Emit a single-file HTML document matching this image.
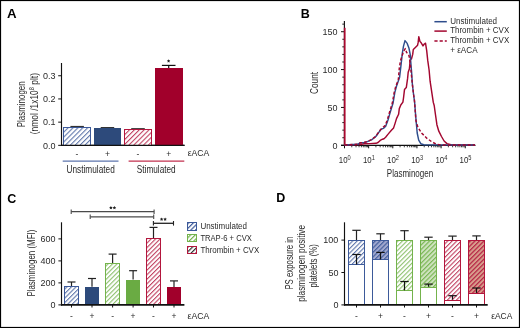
<!DOCTYPE html>
<html><head><meta charset="utf-8"><style>
html,body{margin:0;padding:0;background:#fff;}
svg{display:block;will-change:transform;}
text{font-family:"Liberation Sans", sans-serif;}
</style></head><body>
<svg width="520" height="328" viewBox="0 0 520 328">
<defs><pattern id="hatchBlueA" patternUnits="userSpaceOnUse" width="3.45" height="3.45" patternTransform="rotate(45)"><rect width="3.45" height="3.45" fill="#fff"/><line x1="0.6" y1="0" x2="0.6" y2="3.45" stroke="#3d5a9a" stroke-width="0.9"/></pattern><pattern id="hatchRedA" patternUnits="userSpaceOnUse" width="3.45" height="3.45" patternTransform="rotate(45)"><rect width="3.45" height="3.45" fill="#fff"/><line x1="0.6" y1="0" x2="0.6" y2="3.45" stroke="#b3163d" stroke-width="0.9"/></pattern><pattern id="hatchBlue" patternUnits="userSpaceOnUse" width="3.2" height="3.2" patternTransform="rotate(45)"><rect width="3.2" height="3.2" fill="#fff"/><line x1="0.6" y1="0" x2="0.6" y2="3.2" stroke="#3d5a9a" stroke-width="0.9"/></pattern><pattern id="hatchGreen" patternUnits="userSpaceOnUse" width="3.2" height="3.2" patternTransform="rotate(45)"><rect width="3.2" height="3.2" fill="#fff"/><line x1="0.6" y1="0" x2="0.6" y2="3.2" stroke="#74b34c" stroke-width="0.9"/></pattern><pattern id="hatchRed" patternUnits="userSpaceOnUse" width="3.2" height="3.2" patternTransform="rotate(45)"><rect width="3.2" height="3.2" fill="#fff"/><line x1="0.6" y1="0" x2="0.6" y2="3.2" stroke="#b3163d" stroke-width="0.9"/></pattern><pattern id="lgBlue" patternUnits="userSpaceOnUse" width="3.3" height="3.3" patternTransform="rotate(45)"><rect width="3.3" height="3.3" fill="#fff"/><line x1="0.6" y1="0" x2="0.6" y2="3.3" stroke="#3d5a9a" stroke-width="1.2"/></pattern><pattern id="lgGreen" patternUnits="userSpaceOnUse" width="3.3" height="3.3" patternTransform="rotate(45)"><rect width="3.3" height="3.3" fill="#fff"/><line x1="0.6" y1="0" x2="0.6" y2="3.3" stroke="#74b34c" stroke-width="1.2"/></pattern><pattern id="lgGray" patternUnits="userSpaceOnUse" width="3.3" height="3.3" patternTransform="rotate(45)"><rect width="3.3" height="3.3" fill="#fff"/><line x1="0.6" y1="0" x2="0.6" y2="3.3" stroke="#333" stroke-width="1.2"/></pattern><pattern id="hatchBlueF" patternUnits="userSpaceOnUse" width="3.2" height="3.2" patternTransform="rotate(45)"><rect width="3.2" height="3.2" fill="#a2a9cf"/><line x1="0.6" y1="0" x2="0.6" y2="3.2" stroke="#3d5a9a" stroke-width="1.1"/></pattern><pattern id="hatchGreenF" patternUnits="userSpaceOnUse" width="3.2" height="3.2" patternTransform="rotate(45)"><rect width="3.2" height="3.2" fill="#cfe3c0"/><line x1="0.6" y1="0" x2="0.6" y2="3.2" stroke="#74b34c" stroke-width="1.1"/></pattern><pattern id="hatchRedF" patternUnits="userSpaceOnUse" width="3.2" height="3.2" patternTransform="rotate(45)"><rect width="3.2" height="3.2" fill="#d89e8c"/><line x1="0.6" y1="0" x2="0.6" y2="3.2" stroke="#b3163d" stroke-width="1.1"/></pattern></defs>
<rect x="0" y="0" width="520" height="328" fill="#fff"/>
<text x="7.1" y="17.7" font-size="12.8" fill="#000" text-anchor="start" font-weight="bold" textLength="9.6" lengthAdjust="spacingAndGlyphs" >A</text>
<line x1="61.5" y1="63" x2="61.5" y2="145.85" stroke="#111" stroke-width="1.15" />
<line x1="61" y1="145.35" x2="184.5" y2="145.35" stroke="#111" stroke-width="1.2" />
<line x1="58.2" y1="145.35" x2="61.5" y2="145.35" stroke="#111" stroke-width="1" />
<text x="55.6" y="148.55" font-size="9" fill="#2a2a2a" text-anchor="end" >0.0</text>
<line x1="58.2" y1="122.15" x2="61.5" y2="122.15" stroke="#111" stroke-width="1" />
<text x="55.6" y="125.35" font-size="9" fill="#2a2a2a" text-anchor="end" >0.1</text>
<line x1="58.2" y1="98.95" x2="61.5" y2="98.95" stroke="#111" stroke-width="1" />
<text x="55.6" y="102.15" font-size="9" fill="#2a2a2a" text-anchor="end" >0.2</text>
<line x1="58.2" y1="75.75" x2="61.5" y2="75.75" stroke="#111" stroke-width="1" />
<text x="55.6" y="78.95" font-size="9" fill="#2a2a2a" text-anchor="end" >0.3</text>
<line x1="70.4" y1="126.5" x2="83.9" y2="126.5" stroke="#333" stroke-width="1.2" />
<line x1="100.7" y1="127.6" x2="114.2" y2="127.6" stroke="#333" stroke-width="1.2" />
<line x1="131.2" y1="128.7" x2="144.8" y2="128.7" stroke="#333" stroke-width="1.2" />
<line x1="161.9" y1="65.4" x2="175.5" y2="65.4" stroke="#111" stroke-width="1.2" />
<line x1="168.7" y1="65.4" x2="168.7" y2="68" stroke="#111" stroke-width="1.2" />
<rect x="63.5" y="127.5" width="27" height="18" fill="url(#hatchBlueA)" stroke="#3d5a9a" stroke-width="1" />
<rect x="94" y="128" width="27" height="17" fill="#2d4a7b" stroke="none" stroke-width="1" />
<rect x="124.5" y="129.5" width="27" height="16" fill="url(#hatchRedA)" stroke="#b3163d" stroke-width="1" />
<rect x="155" y="68" width="28" height="77" fill="#a1002b" stroke="none" stroke-width="1" />
<line x1="61" y1="145.35" x2="184.5" y2="145.35" stroke="#111" stroke-width="1.2" />
<polygon points="168.6,59.2 169.13,60.27 170.31,60.44 169.46,61.28 169.66,62.46 168.6,61.9 167.54,62.46 167.74,61.28 166.89,60.44 168.07,60.27" fill="#222"/>
<text x="77" y="156.6" font-size="8.5" fill="#2a2a2a" text-anchor="middle" >-</text>
<text x="107.5" y="156.6" font-size="8.5" fill="#2a2a2a" text-anchor="middle" >+</text>
<text x="138" y="156.6" font-size="8.5" fill="#2a2a2a" text-anchor="middle" >-</text>
<text x="168.8" y="156.6" font-size="8.5" fill="#2a2a2a" text-anchor="middle" >+</text>
<text x="187.7" y="156.3" font-size="9" fill="#2a2a2a" text-anchor="start" textLength="21.7" lengthAdjust="spacingAndGlyphs" >&#949;ACA</text>
<line x1="62.7" y1="161.1" x2="118.5" y2="161.1" stroke="#5d74ad" stroke-width="1.3" />
<line x1="128.6" y1="161.1" x2="184.3" y2="161.1" stroke="#c2304f" stroke-width="1.3" />
<text x="66.5" y="173.2" font-size="11" fill="#2a2a2a" text-anchor="start" textLength="48.3" lengthAdjust="spacingAndGlyphs" >Unstimulated</text>
<text x="136.8" y="173" font-size="11" fill="#2a2a2a" text-anchor="start" textLength="38.9" lengthAdjust="spacingAndGlyphs" >Stimulated</text>
<text transform="translate(25.2,127.2) rotate(-90)" font-size="10.4" fill="#2a2a2a" text-anchor="start" textLength="45.8" lengthAdjust="spacingAndGlyphs" >Plasminogen</text>
<text transform="translate(37.8,134.3) rotate(-90)" font-size="10.4" fill="#2a2a2a" text-anchor="start" textLength="61.3" lengthAdjust="spacingAndGlyphs" >(nmol /1x10<tspan font-size="7" dy="-3.6">8</tspan><tspan dy="3.6"> plt)</tspan></text>
<text x="300.8" y="17.9" font-size="12.5" fill="#000" text-anchor="start" font-weight="bold" >B</text>
<line x1="344.4" y1="21" x2="344.4" y2="145.9" stroke="#111" stroke-width="1.15" />
<line x1="341" y1="145.3" x2="475.5" y2="145.3" stroke="#111" stroke-width="1.2" />
<line x1="341" y1="145.3" x2="344.4" y2="145.3" stroke="#111" stroke-width="1" />
<line x1="342.3" y1="137.73" x2="344.4" y2="137.73" stroke="#222" stroke-width="1" />
<line x1="342.3" y1="130.15" x2="344.4" y2="130.15" stroke="#222" stroke-width="1" />
<line x1="342.3" y1="122.58" x2="344.4" y2="122.58" stroke="#222" stroke-width="1" />
<line x1="342.3" y1="115.01" x2="344.4" y2="115.01" stroke="#222" stroke-width="1" />
<line x1="341" y1="107.44" x2="344.4" y2="107.44" stroke="#111" stroke-width="1" />
<line x1="342.3" y1="99.86" x2="344.4" y2="99.86" stroke="#222" stroke-width="1" />
<line x1="342.3" y1="92.29" x2="344.4" y2="92.29" stroke="#222" stroke-width="1" />
<line x1="342.3" y1="84.72" x2="344.4" y2="84.72" stroke="#222" stroke-width="1" />
<line x1="342.3" y1="77.14" x2="344.4" y2="77.14" stroke="#222" stroke-width="1" />
<line x1="341" y1="69.57" x2="344.4" y2="69.57" stroke="#111" stroke-width="1" />
<line x1="342.3" y1="62" x2="344.4" y2="62" stroke="#222" stroke-width="1" />
<line x1="342.3" y1="54.42" x2="344.4" y2="54.42" stroke="#222" stroke-width="1" />
<line x1="342.3" y1="46.85" x2="344.4" y2="46.85" stroke="#222" stroke-width="1" />
<line x1="342.3" y1="39.28" x2="344.4" y2="39.28" stroke="#222" stroke-width="1" />
<line x1="341" y1="31.71" x2="344.4" y2="31.71" stroke="#111" stroke-width="1" />
<line x1="342.3" y1="24.13" x2="344.4" y2="24.13" stroke="#222" stroke-width="1" />
<text x="337.6" y="148.5" font-size="9" fill="#2a2a2a" text-anchor="end" >0</text>
<text x="337.6" y="110.64" font-size="9" fill="#2a2a2a" text-anchor="end" >50</text>
<text x="337.6" y="72.77" font-size="9" fill="#2a2a2a" text-anchor="end" >100</text>
<text x="337.6" y="34.91" font-size="9" fill="#2a2a2a" text-anchor="end" >150</text>
<line x1="344.5" y1="145.3" x2="344.5" y2="148.3" stroke="#111" stroke-width="1" />
<line x1="351.77" y1="145.3" x2="351.77" y2="147.3" stroke="#111" stroke-width="0.8" />
<line x1="356.02" y1="145.3" x2="356.02" y2="147.3" stroke="#111" stroke-width="0.8" />
<line x1="359.04" y1="145.3" x2="359.04" y2="147.3" stroke="#111" stroke-width="0.8" />
<line x1="361.38" y1="145.3" x2="361.38" y2="147.3" stroke="#111" stroke-width="0.8" />
<line x1="363.29" y1="145.3" x2="363.29" y2="147.3" stroke="#111" stroke-width="0.8" />
<line x1="364.91" y1="145.3" x2="364.91" y2="147.3" stroke="#111" stroke-width="0.8" />
<line x1="366.31" y1="145.3" x2="366.31" y2="147.3" stroke="#111" stroke-width="0.8" />
<line x1="367.54" y1="145.3" x2="367.54" y2="147.3" stroke="#111" stroke-width="0.8" />
<line x1="368.65" y1="145.3" x2="368.65" y2="148.3" stroke="#111" stroke-width="1" />
<line x1="375.92" y1="145.3" x2="375.92" y2="147.3" stroke="#111" stroke-width="0.8" />
<line x1="380.17" y1="145.3" x2="380.17" y2="147.3" stroke="#111" stroke-width="0.8" />
<line x1="383.19" y1="145.3" x2="383.19" y2="147.3" stroke="#111" stroke-width="0.8" />
<line x1="385.53" y1="145.3" x2="385.53" y2="147.3" stroke="#111" stroke-width="0.8" />
<line x1="387.44" y1="145.3" x2="387.44" y2="147.3" stroke="#111" stroke-width="0.8" />
<line x1="389.06" y1="145.3" x2="389.06" y2="147.3" stroke="#111" stroke-width="0.8" />
<line x1="390.46" y1="145.3" x2="390.46" y2="147.3" stroke="#111" stroke-width="0.8" />
<line x1="391.69" y1="145.3" x2="391.69" y2="147.3" stroke="#111" stroke-width="0.8" />
<line x1="392.8" y1="145.3" x2="392.8" y2="148.3" stroke="#111" stroke-width="1" />
<line x1="400.07" y1="145.3" x2="400.07" y2="147.3" stroke="#111" stroke-width="0.8" />
<line x1="404.32" y1="145.3" x2="404.32" y2="147.3" stroke="#111" stroke-width="0.8" />
<line x1="407.34" y1="145.3" x2="407.34" y2="147.3" stroke="#111" stroke-width="0.8" />
<line x1="409.68" y1="145.3" x2="409.68" y2="147.3" stroke="#111" stroke-width="0.8" />
<line x1="411.59" y1="145.3" x2="411.59" y2="147.3" stroke="#111" stroke-width="0.8" />
<line x1="413.21" y1="145.3" x2="413.21" y2="147.3" stroke="#111" stroke-width="0.8" />
<line x1="414.61" y1="145.3" x2="414.61" y2="147.3" stroke="#111" stroke-width="0.8" />
<line x1="415.84" y1="145.3" x2="415.84" y2="147.3" stroke="#111" stroke-width="0.8" />
<line x1="416.95" y1="145.3" x2="416.95" y2="148.3" stroke="#111" stroke-width="1" />
<line x1="424.22" y1="145.3" x2="424.22" y2="147.3" stroke="#111" stroke-width="0.8" />
<line x1="428.47" y1="145.3" x2="428.47" y2="147.3" stroke="#111" stroke-width="0.8" />
<line x1="431.49" y1="145.3" x2="431.49" y2="147.3" stroke="#111" stroke-width="0.8" />
<line x1="433.83" y1="145.3" x2="433.83" y2="147.3" stroke="#111" stroke-width="0.8" />
<line x1="435.74" y1="145.3" x2="435.74" y2="147.3" stroke="#111" stroke-width="0.8" />
<line x1="437.36" y1="145.3" x2="437.36" y2="147.3" stroke="#111" stroke-width="0.8" />
<line x1="438.76" y1="145.3" x2="438.76" y2="147.3" stroke="#111" stroke-width="0.8" />
<line x1="439.99" y1="145.3" x2="439.99" y2="147.3" stroke="#111" stroke-width="0.8" />
<line x1="441.1" y1="145.3" x2="441.1" y2="148.3" stroke="#111" stroke-width="1" />
<line x1="448.37" y1="145.3" x2="448.37" y2="147.3" stroke="#111" stroke-width="0.8" />
<line x1="452.62" y1="145.3" x2="452.62" y2="147.3" stroke="#111" stroke-width="0.8" />
<line x1="455.64" y1="145.3" x2="455.64" y2="147.3" stroke="#111" stroke-width="0.8" />
<line x1="457.98" y1="145.3" x2="457.98" y2="147.3" stroke="#111" stroke-width="0.8" />
<line x1="459.89" y1="145.3" x2="459.89" y2="147.3" stroke="#111" stroke-width="0.8" />
<line x1="461.51" y1="145.3" x2="461.51" y2="147.3" stroke="#111" stroke-width="0.8" />
<line x1="462.91" y1="145.3" x2="462.91" y2="147.3" stroke="#111" stroke-width="0.8" />
<line x1="464.14" y1="145.3" x2="464.14" y2="147.3" stroke="#111" stroke-width="0.8" />
<line x1="465.25" y1="145.3" x2="465.25" y2="148.3" stroke="#111" stroke-width="1" />
<text x="338.8" y="162.9" font-size="8.9" fill="#2a2a2a" textLength="11.9" lengthAdjust="spacingAndGlyphs">10<tspan font-size="6.4" dy="-2.9">0</tspan></text>
<text x="362.95" y="162.9" font-size="8.9" fill="#2a2a2a" textLength="11.9" lengthAdjust="spacingAndGlyphs">10<tspan font-size="6.4" dy="-2.9">1</tspan></text>
<text x="387.1" y="162.9" font-size="8.9" fill="#2a2a2a" textLength="11.9" lengthAdjust="spacingAndGlyphs">10<tspan font-size="6.4" dy="-2.9">2</tspan></text>
<text x="411.25" y="162.9" font-size="8.9" fill="#2a2a2a" textLength="11.9" lengthAdjust="spacingAndGlyphs">10<tspan font-size="6.4" dy="-2.9">3</tspan></text>
<text x="435.4" y="162.9" font-size="8.9" fill="#2a2a2a" textLength="11.9" lengthAdjust="spacingAndGlyphs">10<tspan font-size="6.4" dy="-2.9">4</tspan></text>
<text x="459.55" y="162.9" font-size="8.9" fill="#2a2a2a" textLength="11.9" lengthAdjust="spacingAndGlyphs">10<tspan font-size="6.4" dy="-2.9">5</tspan></text>
<text x="386.8" y="176.5" font-size="11" fill="#2a2a2a" text-anchor="start" textLength="46.4" lengthAdjust="spacingAndGlyphs" >Plasminogen</text>
<text transform="translate(317.9,93.9) rotate(-90)" font-size="10.6" fill="#2a2a2a" text-anchor="start" textLength="21.9" lengthAdjust="spacingAndGlyphs" >Count</text>
<line x1="434.4" y1="21.7" x2="446.8" y2="21.7" stroke="#2e4d8c" stroke-width="1.5" />
<line x1="434.4" y1="31.1" x2="446.8" y2="31.1" stroke="#a3062f" stroke-width="1.5" />
<line x1="434.4" y1="40.9" x2="446.8" y2="40.9" stroke="#a3062f" stroke-width="1.5" stroke-dasharray="3.2 2"/>
<text x="450.2" y="24" font-size="8.3" fill="#2a2a2a" text-anchor="start" textLength="46.9" lengthAdjust="spacingAndGlyphs" >Unstimulated</text>
<text x="450.2" y="33.3" font-size="8.3" fill="#2a2a2a" text-anchor="start" textLength="59" lengthAdjust="spacingAndGlyphs" >Thrombin + CVX</text>
<text x="450.2" y="42.9" font-size="8.3" fill="#2a2a2a" text-anchor="start" textLength="59" lengthAdjust="spacingAndGlyphs" >Thrombin + CVX</text>
<text x="450.2" y="52.5" font-size="8.3" fill="#2a2a2a" text-anchor="start" textLength="27.4" lengthAdjust="spacingAndGlyphs" >+ &#949;ACA</text>
<polyline points="344.7,145 360,144.5 364,143.8 370,143.6 376,143.3 378,142.5 380.2,140.4 382.5,139.2 384,138.7 385.6,137.3 387.9,134.4 391.4,130.3 393.6,127.9 395,123.6 396.5,118.6 398.6,114.3 399.3,108.6 400.8,105 402.9,102.1 403.5,98 404.5,89.6 406.3,87.6 407.6,78.4 408.2,72.3 409.4,68.7 410.2,60 411.5,58.7 412.7,54.4 413.3,49.5 415.1,47.7 417.6,45.2 418.2,42.2 418.8,36.7 420,41.6 421.2,42.8 423,45.9 424.3,44 425.5,43.2 426.7,50.7 427.7,60.2 429.1,70 430.1,81.2 433.3,102.4 434.2,105.5 435.6,115.5 436.9,124.7 438.8,131.2 441.5,136.5 444.1,141 447,143.6 451.8,144.9 475,145" fill="none" stroke="#a3062f" stroke-width="1.45" stroke-linejoin="round"/>
<line x1="344.7" y1="27.8" x2="344.7" y2="145.3" stroke="#a8082f" stroke-width="1.75" />
<polyline points="344.5,145 357.8,144.3 360.4,142.6 364.2,142.5 367.4,141.6 371.9,139.6 375.8,136.5 378.8,132.3 381.1,129.2 383.4,128.4 385.7,126.2 388,120 390.2,112.4 393,103.3 394.8,92.6 396.4,86.5 399.6,77.2 401.1,64.4 402.3,53.4 403.5,46.1 405,40.6 407.2,43.4 409,48.3 410.2,54.4 411,65 411.6,72 412.4,84.5 413.7,95.5 414.6,102 415.8,117.2 417.2,133 418.7,140.1 420.8,143.7 423.7,144.8 475,145" fill="none" stroke="#2e4d8c" stroke-width="1.45" stroke-linejoin="round"/>
<polyline points="344.5,145 357.8,144.3 360.4,142.8 364.2,142.5 367.4,141.4 371.9,139.4 375.8,136.3 378.3,132.6 380.5,129.8 382.9,127.4 385.1,125.6 387.4,119.6 389.6,112 392.4,102.8 394.2,92.4 395.9,86 398.3,80 398.7,75.4 399.3,68 400.5,60.7 402.3,55.2 403.5,51.6 405.3,48.6 406.6,52.4 407.8,53.8 409,55.6 409.6,59.3 410.3,64.1 411.1,72 412.4,84.5 413.7,95.5 414.4,100 415.3,112 415.9,120.5 417.9,127.3 421.8,133.2 427,138.4 431.6,141.7 436.2,144.1 441.5,145 475,145" fill="none" stroke="#a3062f" stroke-width="1.45" stroke-dasharray="3 2" stroke-linejoin="round"/>
<text x="7.2" y="202.6" font-size="12.5" fill="#000" text-anchor="start" font-weight="bold" >C</text>
<line x1="61.5" y1="222.3" x2="61.5" y2="305.6" stroke="#111" stroke-width="1.15" />
<line x1="58.4" y1="304.9" x2="61.5" y2="304.9" stroke="#111" stroke-width="1" />
<text x="55.6" y="308.1" font-size="9" fill="#2a2a2a" text-anchor="end" >0</text>
<line x1="58.4" y1="282.9" x2="61.5" y2="282.9" stroke="#111" stroke-width="1" />
<text x="55.6" y="286.1" font-size="9" fill="#2a2a2a" text-anchor="end" >200</text>
<line x1="58.4" y1="260.9" x2="61.5" y2="260.9" stroke="#111" stroke-width="1" />
<text x="55.6" y="264.1" font-size="9" fill="#2a2a2a" text-anchor="end" >400</text>
<line x1="58.4" y1="238.9" x2="61.5" y2="238.9" stroke="#111" stroke-width="1" />
<text x="55.6" y="242.1" font-size="9" fill="#2a2a2a" text-anchor="end" >600</text>
<line x1="71.5" y1="282" x2="71.5" y2="286.5" stroke="#222" stroke-width="1.2" />
<line x1="67.5" y1="282" x2="75.5" y2="282" stroke="#222" stroke-width="1.2" />
<rect x="64.5" y="286.5" width="14" height="18" fill="url(#hatchBlue)" stroke="#3d5a9a" stroke-width="1" />
<line x1="71.5" y1="304.9" x2="71.5" y2="307.5" stroke="#111" stroke-width="1" />
<text x="71.5" y="318.8" font-size="8.5" fill="#2a2a2a" text-anchor="middle" >-</text>
<line x1="92" y1="278.5" x2="92" y2="286.8" stroke="#222" stroke-width="1.2" />
<line x1="88" y1="278.5" x2="96" y2="278.5" stroke="#222" stroke-width="1.2" />
<rect x="85" y="287" width="14" height="18" fill="#2d4a7b" stroke="none" stroke-width="1" />
<line x1="92" y1="304.9" x2="92" y2="307.5" stroke="#111" stroke-width="1" />
<text x="92" y="318.8" font-size="8.5" fill="#2a2a2a" text-anchor="middle" >+</text>
<line x1="112.6" y1="254.1" x2="112.6" y2="263" stroke="#222" stroke-width="1.2" />
<line x1="108.6" y1="254.1" x2="116.6" y2="254.1" stroke="#222" stroke-width="1.2" />
<rect x="105.5" y="263.5" width="14" height="41" fill="url(#hatchGreen)" stroke="#74b34c" stroke-width="1" />
<line x1="112.6" y1="304.9" x2="112.6" y2="307.5" stroke="#111" stroke-width="1" />
<text x="112.6" y="318.8" font-size="8.5" fill="#2a2a2a" text-anchor="middle" >-</text>
<line x1="133.1" y1="270.7" x2="133.1" y2="279.5" stroke="#222" stroke-width="1.2" />
<line x1="129.1" y1="270.7" x2="137.1" y2="270.7" stroke="#222" stroke-width="1.2" />
<rect x="126" y="280" width="14" height="25" fill="#6aab43" stroke="none" stroke-width="1" />
<line x1="133.1" y1="304.9" x2="133.1" y2="307.5" stroke="#111" stroke-width="1" />
<text x="133.1" y="318.8" font-size="8.5" fill="#2a2a2a" text-anchor="middle" >+</text>
<line x1="153.5" y1="227.4" x2="153.5" y2="238.3" stroke="#222" stroke-width="1.2" />
<line x1="149.5" y1="227.4" x2="157.5" y2="227.4" stroke="#222" stroke-width="1.2" />
<rect x="146.5" y="238.5" width="14" height="66" fill="url(#hatchRed)" stroke="#b3163d" stroke-width="1" />
<line x1="153.5" y1="304.9" x2="153.5" y2="307.5" stroke="#111" stroke-width="1" />
<text x="153.5" y="318.8" font-size="8.5" fill="#2a2a2a" text-anchor="middle" >-</text>
<line x1="174" y1="280.9" x2="174" y2="287.3" stroke="#222" stroke-width="1.2" />
<line x1="170" y1="280.9" x2="178" y2="280.9" stroke="#222" stroke-width="1.2" />
<rect x="167" y="287" width="14" height="18" fill="#a1002b" stroke="none" stroke-width="1" />
<line x1="174" y1="304.9" x2="174" y2="307.5" stroke="#111" stroke-width="1" />
<text x="174" y="318.8" font-size="8.5" fill="#2a2a2a" text-anchor="middle" >+</text>
<line x1="61" y1="304.9" x2="184.4" y2="304.9" stroke="#111" stroke-width="1.6" />
<text x="187.6" y="318.8" font-size="9.2" fill="#2a2a2a" text-anchor="start" textLength="21.8" lengthAdjust="spacingAndGlyphs" >&#949;ACA</text>
<line x1="71.2" y1="211.7" x2="154.1" y2="211.7" stroke="#4a4a4a" stroke-width="1.3" />
<line x1="71.2" y1="209.4" x2="71.2" y2="214" stroke="#4a4a4a" stroke-width="1.1" />
<line x1="154.1" y1="209.4" x2="154.1" y2="214" stroke="#4a4a4a" stroke-width="1.1" />
<line x1="90.2" y1="216.8" x2="153.7" y2="216.8" stroke="#4a4a4a" stroke-width="1.3" />
<line x1="90.2" y1="214.5" x2="90.2" y2="219.1" stroke="#4a4a4a" stroke-width="1.1" />
<line x1="153.7" y1="214.5" x2="153.7" y2="219.1" stroke="#4a4a4a" stroke-width="1.1" />
<line x1="153.4" y1="223.3" x2="173.5" y2="223.3" stroke="#222" stroke-width="1.3" />
<line x1="153.4" y1="221" x2="153.4" y2="225.6" stroke="#222" stroke-width="1.1" />
<line x1="173.5" y1="221" x2="173.5" y2="225.6" stroke="#222" stroke-width="1.1" />
<polygon points="110.9,205.9 111.46,207.03 112.71,207.21 111.8,208.09 112.02,209.34 110.9,208.75 109.78,209.34 110,208.09 109.09,207.21 110.34,207.03" fill="#222"/>
<polygon points="114.4,205.9 114.96,207.03 116.21,207.21 115.3,208.09 115.52,209.34 114.4,208.75 113.28,209.34 113.5,208.09 112.59,207.21 113.84,207.03" fill="#222"/>
<polygon points="161.6,217.4 162.16,218.53 163.41,218.71 162.5,219.59 162.72,220.84 161.6,220.25 160.48,220.84 160.7,219.59 159.79,218.71 161.04,218.53" fill="#222"/>
<polygon points="165.1,217.4 165.66,218.53 166.91,218.71 166,219.59 166.22,220.84 165.1,220.25 163.98,220.84 164.2,219.59 163.29,218.71 164.54,218.53" fill="#222"/>
<text transform="translate(35.3,296.6) rotate(-90)" font-size="10" fill="#2a2a2a" text-anchor="start" textLength="67" lengthAdjust="spacingAndGlyphs" >Plasminogen (MFI)</text>
<rect x="187.5" y="222.5" width="9" height="8" fill="url(#lgBlue)" stroke="#3d5a9a" stroke-width="1" />
<rect x="187.5" y="234.5" width="9" height="7" fill="url(#lgGreen)" stroke="#74b34c" stroke-width="1" />
<rect x="187.5" y="246.5" width="9" height="7" fill="url(#lgGray)" stroke="#b3163d" stroke-width="1" />
<text x="200.4" y="229.2" font-size="8.6" fill="#2a2a2a" text-anchor="start" textLength="46.6" lengthAdjust="spacingAndGlyphs" >Unstimulated</text>
<text x="200.4" y="241.1" font-size="8.6" fill="#2a2a2a" text-anchor="start" textLength="51.4" lengthAdjust="spacingAndGlyphs" >TRAP-6 + CVX</text>
<text x="200.4" y="252.9" font-size="8.6" fill="#2a2a2a" text-anchor="start" textLength="58.8" lengthAdjust="spacingAndGlyphs" >Thrombin + CVX</text>
<text x="276.2" y="202.1" font-size="12.5" fill="#000" text-anchor="start" font-weight="bold" >D</text>
<line x1="344.5" y1="222.3" x2="344.5" y2="305.6" stroke="#111" stroke-width="1.15" />
<line x1="341.4" y1="304.9" x2="344.5" y2="304.9" stroke="#111" stroke-width="1" />
<text x="338.4" y="308.1" font-size="9" fill="#2a2a2a" text-anchor="end" >0</text>
<line x1="341.4" y1="272.5" x2="344.5" y2="272.5" stroke="#111" stroke-width="1" />
<text x="338.4" y="275.7" font-size="9" fill="#2a2a2a" text-anchor="end" >50</text>
<line x1="341.4" y1="240.1" x2="344.5" y2="240.1" stroke="#111" stroke-width="1" />
<text x="338.4" y="243.3" font-size="9" fill="#2a2a2a" text-anchor="end" >100</text>
<line x1="356.5" y1="230.3" x2="356.5" y2="240.1" stroke="#222" stroke-width="1.2" />
<line x1="352.3" y1="230.3" x2="360.7" y2="230.3" stroke="#222" stroke-width="1.2" />
<rect x="348.5" y="240.5" width="16" height="25" fill="url(#hatchBlue)" stroke="#3d5a9a" stroke-width="1" />
<rect x="348.5" y="264.5" width="16" height="40" fill="#fff" stroke="#3d5a9a" stroke-width="1" />
<line x1="356.5" y1="254.5" x2="356.5" y2="264.5" stroke="#111" stroke-width="1.2" />
<line x1="352.3" y1="254.5" x2="360.7" y2="254.5" stroke="#111" stroke-width="1.2" />
<line x1="356.5" y1="304.9" x2="356.5" y2="307.5" stroke="#111" stroke-width="1" />
<text x="356.5" y="318.8" font-size="8.5" fill="#2a2a2a" text-anchor="middle" >-</text>
<line x1="380.5" y1="233.8" x2="380.5" y2="240.1" stroke="#222" stroke-width="1.2" />
<line x1="376.3" y1="233.8" x2="384.7" y2="233.8" stroke="#222" stroke-width="1.2" />
<rect x="372.5" y="240.5" width="16" height="19" fill="url(#hatchBlueF)" stroke="#3d5a9a" stroke-width="1" />
<rect x="372.5" y="259.5" width="16" height="45" fill="#fff" stroke="#3d5a9a" stroke-width="1" />
<line x1="380.5" y1="252.4" x2="380.5" y2="259.4" stroke="#111" stroke-width="1.2" />
<line x1="376.3" y1="252.4" x2="384.7" y2="252.4" stroke="#111" stroke-width="1.2" />
<line x1="380.5" y1="304.9" x2="380.5" y2="307.5" stroke="#111" stroke-width="1" />
<text x="380.5" y="318.8" font-size="8.5" fill="#2a2a2a" text-anchor="middle" >+</text>
<line x1="404.5" y1="230.7" x2="404.5" y2="240.1" stroke="#222" stroke-width="1.2" />
<line x1="400.3" y1="230.7" x2="408.7" y2="230.7" stroke="#222" stroke-width="1.2" />
<rect x="396.5" y="240.5" width="16" height="50" fill="url(#hatchGreen)" stroke="#74b34c" stroke-width="1" />
<rect x="396.5" y="290.5" width="16" height="14" fill="#fff" stroke="#74b34c" stroke-width="1" />
<line x1="404.5" y1="281.5" x2="404.5" y2="290.3" stroke="#111" stroke-width="1.2" />
<line x1="400.3" y1="281.5" x2="408.7" y2="281.5" stroke="#111" stroke-width="1.2" />
<line x1="404.5" y1="304.9" x2="404.5" y2="307.5" stroke="#111" stroke-width="1" />
<text x="404.5" y="318.8" font-size="8.5" fill="#2a2a2a" text-anchor="middle" >-</text>
<line x1="428.5" y1="237.2" x2="428.5" y2="240.1" stroke="#222" stroke-width="1.2" />
<line x1="424.3" y1="237.2" x2="432.7" y2="237.2" stroke="#222" stroke-width="1.2" />
<rect x="420.5" y="240.5" width="16" height="47" fill="url(#hatchGreenF)" stroke="#74b34c" stroke-width="1" />
<rect x="420.5" y="287.5" width="16" height="17" fill="#fff" stroke="#74b34c" stroke-width="1" />
<line x1="428.5" y1="284.1" x2="428.5" y2="286.7" stroke="#111" stroke-width="1.2" />
<line x1="424.3" y1="284.1" x2="432.7" y2="284.1" stroke="#111" stroke-width="1.2" />
<line x1="428.5" y1="304.9" x2="428.5" y2="307.5" stroke="#111" stroke-width="1" />
<text x="428.5" y="318.8" font-size="8.5" fill="#2a2a2a" text-anchor="middle" >+</text>
<line x1="452.5" y1="236.1" x2="452.5" y2="240.1" stroke="#222" stroke-width="1.2" />
<line x1="448.3" y1="236.1" x2="456.7" y2="236.1" stroke="#222" stroke-width="1.2" />
<rect x="444.5" y="240.5" width="16" height="60" fill="url(#hatchRed)" stroke="#b3163d" stroke-width="1" />
<rect x="444.5" y="300.5" width="16" height="4" fill="#fff" stroke="#b3163d" stroke-width="1" />
<line x1="452.5" y1="295.7" x2="452.5" y2="299.6" stroke="#111" stroke-width="1.2" />
<line x1="448.3" y1="295.7" x2="456.7" y2="295.7" stroke="#111" stroke-width="1.2" />
<line x1="452.5" y1="304.9" x2="452.5" y2="307.5" stroke="#111" stroke-width="1" />
<text x="452.5" y="318.8" font-size="8.5" fill="#2a2a2a" text-anchor="middle" >-</text>
<line x1="476.5" y1="235.9" x2="476.5" y2="240.1" stroke="#222" stroke-width="1.2" />
<line x1="472.3" y1="235.9" x2="480.7" y2="235.9" stroke="#222" stroke-width="1.2" />
<rect x="468.5" y="240.5" width="16" height="53" fill="url(#hatchRedF)" stroke="#b3163d" stroke-width="1" />
<rect x="468.5" y="293.5" width="16" height="11" fill="#fff" stroke="#b3163d" stroke-width="1" />
<line x1="476.5" y1="288" x2="476.5" y2="292.9" stroke="#111" stroke-width="1.2" />
<line x1="472.3" y1="288" x2="480.7" y2="288" stroke="#111" stroke-width="1.2" />
<line x1="476.5" y1="304.9" x2="476.5" y2="307.5" stroke="#111" stroke-width="1" />
<text x="476.5" y="318.8" font-size="8.5" fill="#2a2a2a" text-anchor="middle" >+</text>
<line x1="344" y1="304.9" x2="487.7" y2="304.9" stroke="#111" stroke-width="1.6" />
<text x="491.2" y="318.8" font-size="9.2" fill="#2a2a2a" text-anchor="start" textLength="21.2" lengthAdjust="spacingAndGlyphs" >&#949;ACA</text>
<text transform="translate(293.1,289.6) rotate(-90)" font-size="10" fill="#2a2a2a" text-anchor="start" textLength="53" lengthAdjust="spacingAndGlyphs" >PS exposure in</text>
<text transform="translate(305.1,301.8) rotate(-90)" font-size="10" fill="#2a2a2a" text-anchor="start" textLength="76.8" lengthAdjust="spacingAndGlyphs" >plasminogen positive</text>
<text transform="translate(316.6,287.6) rotate(-90)" font-size="10" fill="#2a2a2a" text-anchor="start" textLength="43.4" lengthAdjust="spacingAndGlyphs" >platelets (%)</text>
<rect x="0.5" y="0.5" width="519" height="327" fill="none" stroke="#000" stroke-width="1.2"/>
</svg>
</body></html>
